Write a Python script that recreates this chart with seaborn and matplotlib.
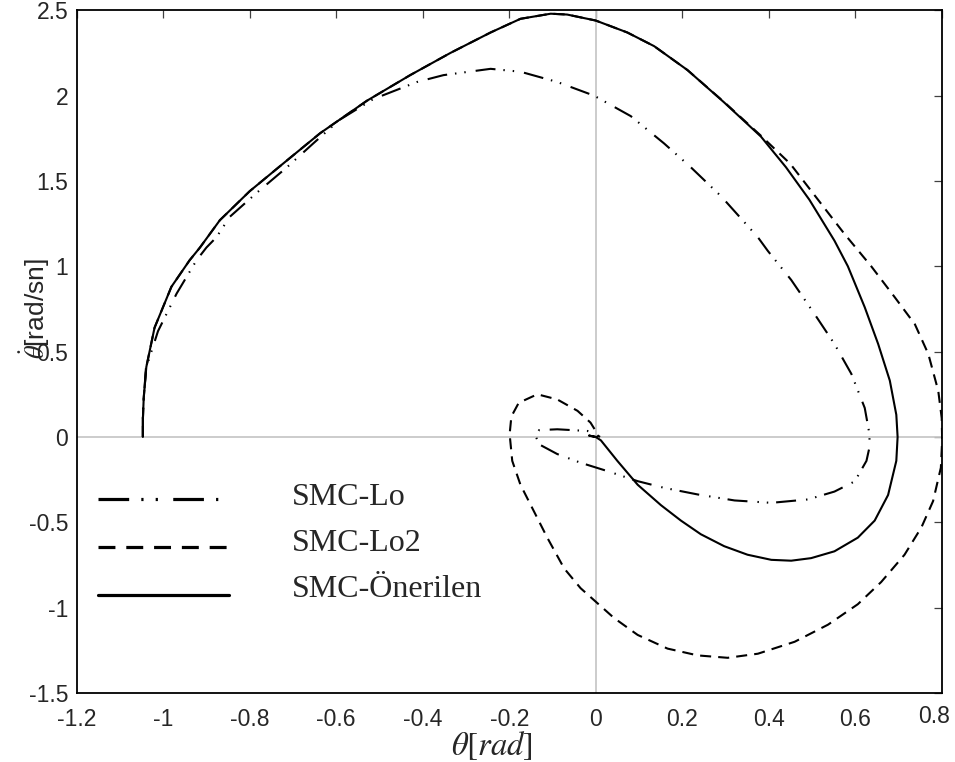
import matplotlib
matplotlib.use("Agg")
import matplotlib.pyplot as plt
import matplotlib.transforms as mtransforms
import seaborn as sns
import pandas as pd

# ---------------- data ----------------
lo_x = [-1.047, -1.047, -1.040, -1.012, -0.969, -0.923, -0.900, -0.877, -0.846, -0.784,
        -0.714, -0.653, -0.591, -0.514, -0.413, -0.352, -0.243, -0.174, -0.089, -0.004,
        0.081, 0.158, 0.220, 0.290, 0.375, 0.398, 0.452, 0.506, 0.552, 0.591,
        0.622, 0.633, 0.633, 0.626, 0.599, 0.552, 0.491, 0.406, 0.321, 0.236,
        0.158, 0.097, 0.027, -0.035, -0.089, -0.131, -0.139, -0.131, -0.089, -0.019,
        0.000, 0.010]
lo_y = [0.000, 0.150, 0.400, 0.620, 0.840, 1.035, 1.110, 1.170, 1.290, 1.430,
        1.580, 1.720, 1.860, 1.980, 2.080, 2.120, 2.157, 2.140, 2.080, 2.000,
        1.880, 1.720, 1.580, 1.410, 1.170, 1.090, 0.920, 0.720, 0.545, 0.370,
        0.170, 0.016, -0.060, -0.140, -0.260, -0.320, -0.366, -0.386, -0.372, -0.337,
        -0.298, -0.259, -0.200, -0.151, -0.100, -0.043, 0.006, 0.040, 0.045, 0.035,
        0.016, 0.000]

lo2_x = [-1.047, -1.047, -1.045, -1.039, -1.020, -0.981, -0.939, -0.915, -0.892, -0.869,
         -0.800, -0.714, -0.637, -0.529, -0.429, -0.336, -0.243, -0.174, -0.104, -0.066,
         0.000, 0.073, 0.135, 0.212, 0.297, 0.382, 0.450, 0.514, 0.575, 0.637,
         0.691, 0.738, 0.769, 0.792, 0.800, 0.801, 0.798, 0.780, 0.753, 0.714,
         0.660, 0.606, 0.537, 0.460, 0.375, 0.305, 0.236, 0.166, 0.097, 0.042,
         0.000, -0.035, -0.073, -0.112, -0.143, -0.174, -0.193, -0.199, -0.195, -0.178,
         -0.135, -0.089, -0.042, -0.012, 0.000, 0.005]
lo2_y = [0.000, 0.100, 0.230, 0.410, 0.640, 0.880, 1.035, 1.110, 1.190, 1.270,
         1.440, 1.620, 1.780, 1.970, 2.120, 2.250, 2.370, 2.450, 2.480, 2.475,
         2.440, 2.370, 2.290, 2.150, 1.962, 1.765, 1.600, 1.390, 1.190, 1.000,
         0.820, 0.660, 0.486, 0.270, 0.110, -0.020, -0.180, -0.376, -0.530, -0.690,
         -0.850, -0.980, -1.100, -1.200, -1.270, -1.294, -1.280, -1.240, -1.160, -1.060,
         -0.965, -0.886, -0.770, -0.590, -0.435, -0.280, -0.140, 0.016, 0.120, 0.200,
         0.250, 0.220, 0.153, 0.084, 0.035, 0.000]

on_x = [-1.047, -1.047, -1.045, -1.039, -1.020, -0.981, -0.939, -0.915, -0.892, -0.869,
        -0.800, -0.714, -0.637, -0.529, -0.429, -0.336, -0.243, -0.174, -0.104, -0.066,
        0.000, 0.073, 0.135, 0.212, 0.297, 0.382, 0.440, 0.494, 0.552, 0.583,
        0.622, 0.653, 0.680, 0.695, 0.698, 0.695, 0.676, 0.645, 0.606, 0.552,
        0.498, 0.452, 0.406, 0.351, 0.297, 0.243, 0.197, 0.151, 0.097, 0.050,
        0.012, 0.000, -0.015, 0.000]
on_y = [0.000, 0.100, 0.230, 0.410, 0.640, 0.880, 1.035, 1.110, 1.190, 1.270,
        1.440, 1.620, 1.780, 1.970, 2.120, 2.250, 2.370, 2.450, 2.480, 2.475,
        2.440, 2.370, 2.290, 2.150, 1.960, 1.760, 1.580, 1.390, 1.150, 1.000,
        0.760, 0.545, 0.330, 0.130, 0.000, -0.140, -0.340, -0.490, -0.590, -0.670,
        -0.710, -0.725, -0.720, -0.690, -0.640, -0.570, -0.490, -0.400, -0.280, -0.140,
        -0.020, 0.000, 0.008, 0.000]

series_labels = ["SMC-Lo", "SMC-Lo2", "SMC-Önerilen"]

x_ticks = [-1.2, -1.0, -0.8, -0.6, -0.4, -0.2, 0.0, 0.2, 0.4, 0.6, 0.8]
x_tick_labels = ["-1.2", "-1", "-0.8", "-0.6", "-0.4", "-0.2", "0", "0.2", "0.4", "0.6", "0.8"]
y_ticks = [-1.5, -1.0, -0.5, 0.0, 0.5, 1.0, 1.5, 2.0, 2.5]
y_tick_labels = ["-1.5", "-1", "-0.5", "0", "0.5", "1", "1.5", "2", "2.5"]

# ---------------- style ----------------
sns.set_style("white")
plt.rcParams["font.family"] = ["Liberation Sans", "DejaVu Sans"]
plt.rcParams["mathtext.fontset"] = "stix"

fig = plt.figure(figsize=(9.55, 7.62), dpi=100)
ax = fig.add_axes([0.0803, 0.0906, 0.9058, 0.8959])

ax.axhline(0, color="#c8c8c8", lw=1.3, zorder=1)
ax.axvline(0, color="#c8c8c8", lw=1.3, zorder=1)

lw = 1.5
styles = [(0, (9.6, 3.8, 0.7, 3.8, 0.7, 4.8)), (0, (5.3, 3.4)), "-"]
data = [(lo_x, lo_y), (lo2_x, lo2_y), (on_x, on_y)]
handles = []
for (xs, ys), lab, ls in zip(data, series_labels, styles):
    df = pd.DataFrame({"theta": xs, "dtheta": ys})
    sns.lineplot(data=df, x="theta", y="dtheta", sort=False, estimator=None,
                 color="black", lw=lw, ax=ax, legend=False, zorder=3)
    line = ax.lines[-1]
    line.set_linestyle(ls)
    line.set_label(lab)
    handles.append(line)

ax.set_xlim(-1.2, 0.8)
ax.set_ylim(-1.5, 2.5)
ax.set_xticks(x_ticks)
ax.set_xticklabels(x_tick_labels)
ax.set_yticks(y_ticks)
ax.set_yticklabels(y_tick_labels)
ax.tick_params(direction="in", length=6, width=0.9, color="#404040",
               top=True, right=True, labelsize=16.5)
ax.tick_params(axis="x", pad=10.5)
ax.tick_params(axis="y", pad=6)

# last x tick label sits a little left/up in the reference
last = ax.get_xticklabels()[-1]
last.set_transform(last.get_transform() +
                   mtransforms.ScaledTranslation(-0.08, 0.03, fig.dpi_scale_trans))

for s in ax.spines.values():
    s.set_color("black")
    s.set_linewidth(1.3)

ax.set_xlabel(r"$\theta[rad]$", fontsize=23.5, va="center")
ax.xaxis.set_label_coords(0.4795, -0.077)
ax.set_ylabel(r"$\dot{\theta}$[rad/sn]", fontsize=19, va="center")
ax.yaxis.set_label_coords(-0.0482, 0.5625)

leg = ax.legend(handles, series_labels, loc="upper left", bbox_to_anchor=(0.0246, 0.3076),
                frameon=False, prop={"family": "Liberation Serif", "size": 23},
                handlelength=4.1, handletextpad=1.97, labelspacing=0.51,
                borderpad=0, borderaxespad=0)
for l, dy in zip(leg.get_lines(), [3.6, 5.0, 7.2]):
    l.set_linewidth(2.3)
    l.set_ydata([v - dy for v in l.get_ydata()])

fig.savefig("out.png", dpi=100)
